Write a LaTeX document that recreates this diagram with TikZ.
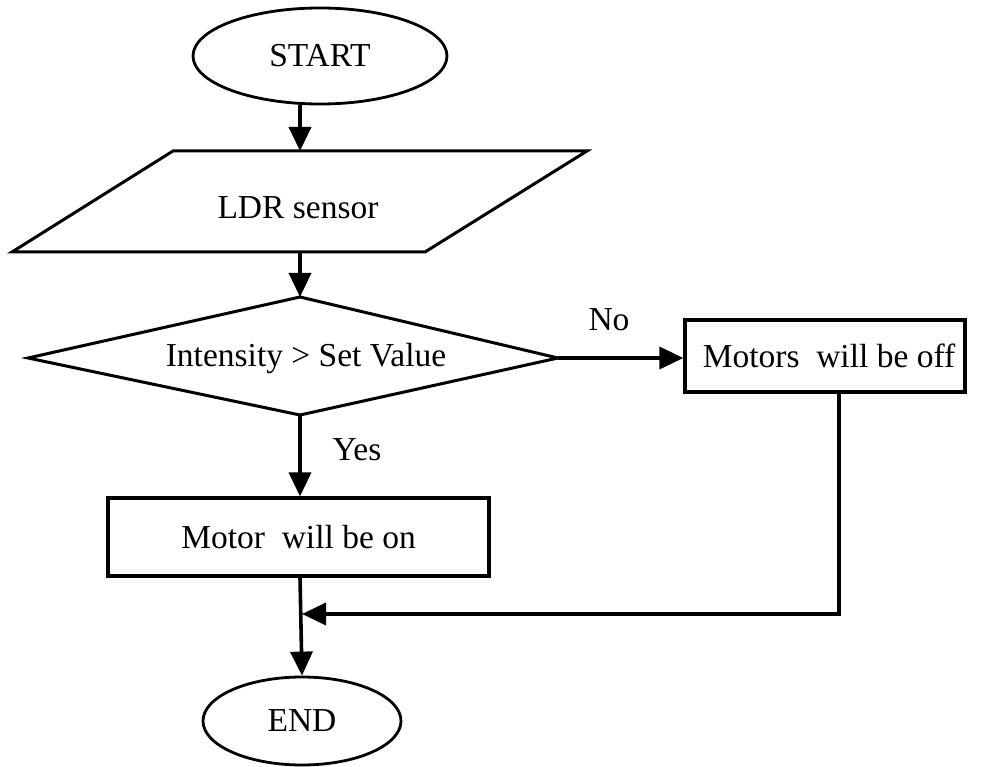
\documentclass[tikz,border=0pt]{standalone}
\usepackage{fontspec}
\setmainfont{Liberation Serif}
\usetikzlibrary{shapes.geometric,arrows.meta}
\begin{document}
\begin{tikzpicture}[x=1pt,y=-1pt,
  txt/.style={font=\fontsize{33.5}{40}\selectfont, inner sep=0pt},
  shapeline/.style={line width=3pt, line join=miter},
  term/.style={draw, ellipse, line width=2.8pt, inner sep=0pt, txt},
  procbox/.style={draw, rectangle, line width=3.2pt, inner sep=0pt, txt},
  flow/.style={line width=3.6pt, -{Triangle[length=24pt,width=22pt]}},
  plain/.style={line width=3.2pt}]
\useasboundingbox (0,0) rectangle (983,767);

% START
\node[term, minimum width=254pt, minimum height=96pt] (start) at (320,56) {START};

% LDR sensor parallelogram
\coordinate (ldrtop) at (300,151);
\coordinate (ldrbot) at (300,252);
\draw[shapeline] (173,151) -- (587,151) -- (425,252) -- (12,252) -- cycle;
\node[txt] (ldr) at (298,208) {LDR sensor};

% Decision diamond
\coordinate (dtop) at (300,297);
\coordinate (dleft) at (28,358);
\coordinate (dright) at (558,358);
\coordinate (dbot) at (300,415);
\draw[shapeline] (dtop) -- (dright) -- (dbot) -- (dleft) -- cycle;
\node[txt] (dec) at (306,358) {Intensity > Set Value};

% Process boxes
\node[procbox, minimum width=381pt, minimum height=78pt] (on) at (298.5,537) {Motor\ \ will be on};
\node[procbox, minimum width=280pt, minimum height=72pt] (off) at (825,356) {\hspace*{8pt}Motors\ \ will be off};

% END
\node[term, minimum width=198pt, minimum height=88pt] (endn) at (302,721) {END};

% Labels
\node[txt] (no) at (609,320) {No};
\node[txt] (yes) at (357,450) {Yes};

% Connectors
\draw[flow] (start.south -| ldrtop) -- (ldrtop);
\draw[flow] (ldrbot) -- (dtop);
\draw[flow] (dright) -- (dright -| off.west);
\draw[flow] (dbot) -- (dbot |- on.north);
\coordinate (merge) at (302,614);
\draw[flow] ([xshift=14pt]off.south) |- (merge);
\draw[flow] (dbot |- on.south) -- (endn.north);
\end{tikzpicture}
\end{document}
